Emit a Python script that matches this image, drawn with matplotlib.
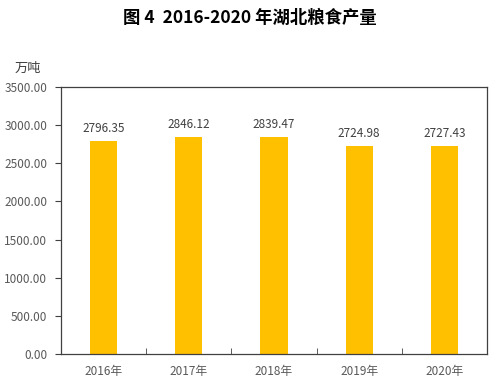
import matplotlib.pyplot as plt

plt.rcParams['font.family'] = ['Noto Sans CJK SC', 'DejaVu Sans']

years = ['2016年', '2017年', '2018年', '2019年', '2020年']
output = [2796.35, 2846.12, 2839.47, 2724.98, 2727.43]

fig = plt.figure(figsize=(4.99, 3.88), dpi=100)
ax = fig.add_axes([0.1222, 0.0876, 0.8538, 0.6882])

x = range(len(years))
ax.bar(x, output, width=0.32, color='#FFC000')
for i, v in zip(x, output):
    ax.text(i, v + 80, f'{v:.2f}', ha='center', va='bottom', fontsize=8.5, color='#404040')

ax.set_xlim(-0.5, len(years) - 0.5)
ax.set_ylim(0, 3500)
ax.set_yticks(range(0, 3501, 500))
ax.set_yticklabels([f'{t:.2f}' for t in range(0, 3501, 500)])
ax.set_xticks(list(x))
ax.set_xticklabels(years)
ax.set_xticks([i + 0.5 for i in range(len(years) - 1)], minor=True)
ax.tick_params(axis='x', which='major', length=0, pad=8, labelsize=8.5, labelcolor='#595959')
ax.tick_params(axis='x', which='minor', direction='in', length=4, color='#404040')
ax.tick_params(axis='y', direction='out', length=4, labelsize=8.5, labelcolor='#595959',
               color='#404040', pad=6)
for s in ax.spines.values():
    s.set_color('#404040')
    s.set_linewidth(0.9)

fig.text(0.5, 0.953, '图 4  2016-2020 年湖北粮食产量', ha='center', va='center',
         fontsize=12.5, fontweight='bold', color='black')
fig.text(0.056, 0.825, '万吨', ha='center', va='center', fontsize=9.5, color='#404040')

fig.savefig('out.png', dpi=100)
